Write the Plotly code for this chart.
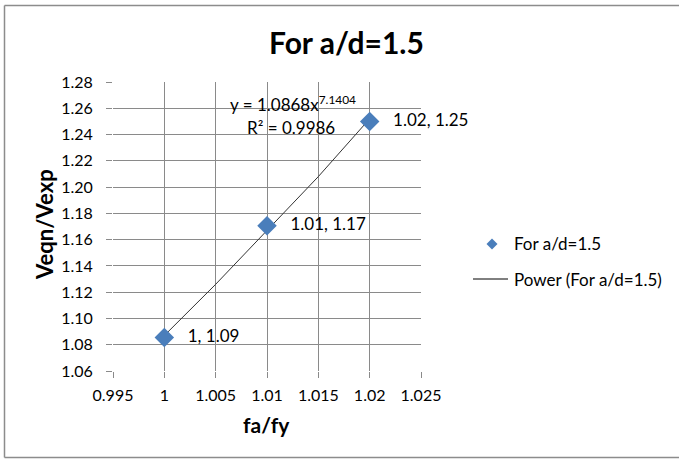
import plotly.graph_objects as go

# Data
fa_fy = [1.00, 1.01, 1.02]
veqn_vexp = [1.0855, 1.1705, 1.2500]
point_labels = ["1, 1.09", "1.01, 1.17", "1.02, 1.25"]

trend_x = [1.000, 1.005, 1.010, 1.015, 1.020]
trend_y = [1.087, 1.126, 1.167, 1.208, 1.252]

x_tickvals = [0.995, 1.0, 1.005, 1.01, 1.015, 1.02, 1.025]
x_ticktext = ["0.995", "1", "1.005", "1.01", "1.015", "1.02", "1.025"]
y_tickvals = [1.06, 1.08, 1.10, 1.12, 1.14, 1.16, 1.18, 1.20, 1.22, 1.24, 1.26, 1.28]
y_ticktext = ["%.2f" % v for v in y_tickvals]

W, H = 679, 459
L, R, T, B = 113, 421, 82, 371
pw, ph = R - L, B - T

def px(x):
    return (x - L) / pw

def py(y):
    return (B - y) / ph

FONT = "Lato, Calibri, Carlito, 'Liberation Sans', sans-serif"
GRID = "#8a8a8a"
BLUE = "#4A7EBB"

fig = go.Figure()
fig.add_trace(go.Scatter(
    x=trend_x, y=trend_y, mode="lines",
    line=dict(color="#333333", width=1),
    name="Power (For a/d=1.5)", showlegend=False, hoverinfo="skip"))
fig.add_trace(go.Scatter(
    x=fa_fy, y=veqn_vexp, mode="markers+text",
    marker=dict(symbol="diamond", size=15, color=BLUE),
    text=["   " + t for t in point_labels], textposition="middle right",
    textfont=dict(size=17, color="#000000", family=FONT),
    name="For a/d=1.5", showlegend=False, cliponaxis=False))

def ann(x, y, text, size, xanchor="center", angle=0):
    return dict(x=px(x), y=py(y), xref="paper", yref="paper", text=text,
                showarrow=False, textangle=angle,
                font=dict(size=size, color="#000", family=FONT),
                xanchor=xanchor, yanchor="middle")

annotations = [
    ann(346, 42, "<b>For a/d=1.5</b>", 30),
    ann(266, 424, "<b>fa/fy</b>", 21),
    ann(44, 225, "<b>Veqn/Vexp</b>", 22, angle=-90),
    ann(293, 103, "y = 1.0868x<sup>7.1404</sup>", 17),
    ann(291, 127, "R² = 0.9986", 17),
    ann(512, 244, "For a/d=1.5", 17, xanchor="left"),
    ann(512, 279, "Power (For a/d=1.5)", 17, xanchor="left"),
]

bc = dict(color="#8c8c8c", width=1.5)
shapes = [
    # outer chart border (right edge lies outside the picture)
    dict(type="line", xref="paper", yref="paper",
         x0=px(4.5), x1=px(4.5), y0=py(457.5), y1=py(5.5), line=bc, layer="below"),
    dict(type="line", xref="paper", yref="paper",
         x0=px(4.5), x1=px(679), y0=py(5.5), y1=py(5.5), line=bc, layer="below"),
    dict(type="line", xref="paper", yref="paper",
         x0=px(4.5), x1=px(679), y0=py(457.5), y1=py(457.5), line=bc, layer="below"),
    # legend line sample
    dict(type="line", xref="paper", yref="paper",
         x0=px(473), x1=px(508), y0=py(279), y1=py(279),
         line=dict(color="#000", width=1)),
    # legend diamond
    dict(type="path", xref="paper", yref="paper",
         path="M %f,%f L %f,%f L %f,%f L %f,%f Z" % (
             px(492), py(238.5), px(497.5), py(244), px(492), py(249.5), px(486.5), py(244)),
         fillcolor=BLUE, line=dict(width=0)),
]

fig.update_layout(
    width=W, height=H,
    margin=dict(l=L, r=W - R, t=T, b=H - B, pad=0),
    paper_bgcolor="white", plot_bgcolor="white",
    font=dict(family=FONT, size=16, color="#000"),
    showlegend=False,
    annotations=annotations, shapes=shapes,
    xaxis=dict(range=[0.995, 1.025], tickvals=x_tickvals, ticktext=x_ticktext,
               showgrid=True, gridcolor=GRID, gridwidth=1,
               ticks="outside", ticklen=6, tickcolor=GRID,
               ticklabelstandoff=4,
               showline=False, zeroline=False,
               tickfont=dict(size=16, color="#000")),
    yaxis=dict(range=[1.06, 1.28], tickvals=y_tickvals, ticktext=y_ticktext,
               showgrid=True, gridcolor=GRID, gridwidth=1,
               ticks="outside", ticklen=6, tickcolor=GRID,
               ticklabelstandoff=10,
               showline=False, zeroline=False,
               tickfont=dict(size=16, color="#000")),
)

fig.write_html("out.html")
